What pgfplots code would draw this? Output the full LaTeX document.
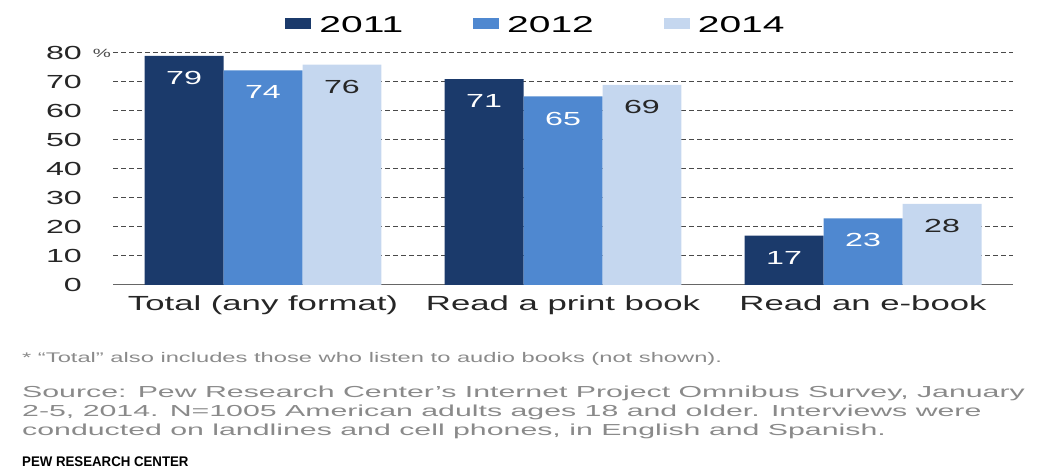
\documentclass[border=0pt]{standalone}
\usepackage{pgfplots}
\pgfplotsset{compat=1.18}
\usepackage{fontspec}
\setmainfont[FakeStretch=1.7]{Liberation Sans}
\newfontfamily\srcfont[FakeStretch=1.9]{Liberation Sans}
\newfontfamily\pewfont[FakeStretch=0.95]{Liberation Sans}

\definecolor{c2011}{HTML}{1B3A6B}
\definecolor{c2012}{HTML}{4F88D0}
\definecolor{c2014}{HTML}{C5D7EF}
\definecolor{gridc}{HTML}{4A4A4A}
\definecolor{notec}{HTML}{8A8A8A}

\begin{document}
\begin{tikzpicture}[x=1bp,y=1bp]
\useasboundingbox (0,0) rectangle (1043,472);
\begin{axis}[
  at={(113bp,187bp)}, anchor=south west,
  scale only axis, width=900bp, height=232bp,
  ymin=0, ymax=80, xmin=-0.5, xmax=2.5,
  ybar=0pt, bar width=0.2633,
  xtick={0,1,2},
  xticklabels={Total (any format), Read a print book, Read an e-book},
  ytick={0,10,...,80},
  ymajorgrids,
  grid style={gridc, dash pattern=on 5bp off 3bp, line width=1bp},
  axis x line*=bottom, axis y line*=left,
  y axis line style={draw=none},
  x axis line style={draw=gray!80!black, line width=1bp},
  major tick length=0pt,
  /pgf/number format/assume math mode=true,
  yticklabel style={font=\fontsize{19}{21}\selectfont, text=black!85, anchor=east, inner sep=0pt, xshift=-31bp},
  xticklabel style={font=\fontsize{20.5}{22}\selectfont, text=black!85, anchor=north, inner sep=0pt, yshift=-11bp},
  nodes near coords,
  every node near coord/.append style={anchor=center, yshift=-22bp, font=\fontsize{19}{21}\selectfont},
  legend columns=3,
  legend style={draw=none, fill=none, at={(rel axis cs:0.47,1)}, anchor=south, yshift=17bp,
    font=\fontsize{23}{25}\selectfont, inner sep=0pt,
    /tikz/every odd column/.append style={column sep=6bp},
    /tikz/every even column/.append style={column sep=68bp}},
  legend image code/.code={\fill[#1] (0bp,-4bp) rectangle (26bp,7bp);},
  clip=false,
]
\addplot[fill=c2011, draw=none, every node near coord/.append style={text=white}]
  coordinates {(0,79) (1,71) (2,17)};
\addplot[fill=c2012, draw=none, every node near coord/.append style={text=white}]
  coordinates {(0,74) (1,65) (2,23)};
\addplot[fill=c2014, draw=none, every node near coord/.append style={text=black!85}]
  coordinates {(0,76) (1,69) (2,28)};
\legend{2011, 2012, 2014}
\node[font=\fontsize{12}{14}\selectfont, text=black!70] at (rel axis cs:0,1) [xshift=-11bp] {\%};
\end{axis}

\node[anchor=west, text=notec, font=\fontsize{14}{16}\selectfont, inner sep=0pt] at (22,113)
  {* “Total” also includes those who listen to audio books (not shown).};
\node[anchor=west, text=notec, font=\srcfont\fontsize{16}{18}\selectfont, inner sep=0pt] at (22,79)
  {Source: Pew Research Center’s Internet Project Omnibus Survey, January};
\node[anchor=west, text=notec, font=\srcfont\fontsize{16}{18}\selectfont, inner sep=0pt] at (22,60)
  {2-5, 2014. N=1005 American adults ages 18 and older. Interviews were};
\node[anchor=west, text=notec, font=\srcfont\fontsize{16}{18}\selectfont, inner sep=0pt] at (22,41)
  {conducted on landlines and cell phones, in English and Spanish.};
\node[anchor=west, text=black, font=\pewfont\bfseries\fontsize{14}{16}\selectfont, inner sep=0pt] at (22,10)
  {PEW RESEARCH CENTER};
\end{tikzpicture}
\end{document}
